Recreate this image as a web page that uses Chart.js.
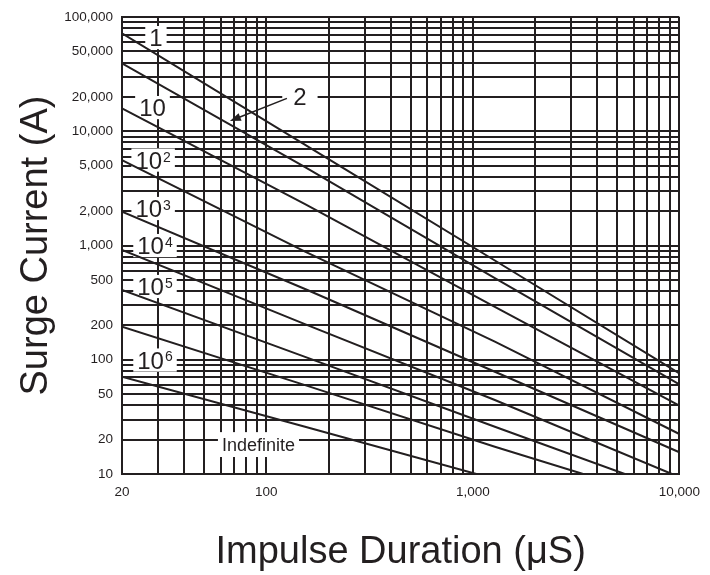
<!DOCTYPE html>
<html>
<head>
<meta charset="utf-8">
<script src="https://cdn.jsdelivr.net/npm/chart.js@4.4.0/dist/chart.umd.min.js"></script>
<style>
html,body{margin:0;padding:0;background:#ffffff;}
canvas{display:block;}
</style>
</head>
<body>
<canvas id="c" width="710" height="575"></canvas>
<script>
// ---------- DATA ----------
const xGridValues = [20,30,40,50,60,70,80,90,100,200,300,400,500,600,700,800,900,1000,2000,3000,4000,5000,6000,7000,8000,9000,10000];
const xTickLabels = [20,100,1000,10000];
const yGridValues = [10,20,30,40,50,60,70,80,90,100,200,300,400,500,600,700,800,900,1000,2000,3000,4000,5000,6000,7000,8000,9000,10000,20000,30000,40000,50000,60000,70000,80000,90000,100000];
const yTickLabels = [10,20,50,100,200,500,1000,2000,5000,10000,20000,50000,100000];

const seriesNames = ['1','2','10','10²','10³','10⁴','10⁵','10⁶','Indefinite'];

const dur_1  = [20, 254, 1278, 10000];
const amp_1  = [72000, 4400, 740, 76];
const dur_2  = [20, 154, 1278, 10000];
const amp_2  = [39400, 4850, 518, 61];
const dur_10 = [20, 154, 1278, 10000];
const amp_10 = [15900, 2300, 290, 39.6];
const dur_1e2 = [20, 154, 1278, 10000];
const amp_1e2 = [5600, 883, 144, 22.4];
const dur_1e3 = [20, 158, 1278, 10000];
const amp_1e3 = [1980, 408, 78.6, 15.5];
const dur_1e4 = [20, 158, 1278, 9200];
const amp_1e4 = [914, 201, 44.4, 10];
const dur_1e5 = [20, 154, 1278, 5440];
const amp_1e5 = [408, 106, 25.9, 10];
const dur_1e6 = [20, 154, 1278, 3420];
const amp_1e6 = [195, 60, 17.3, 10];
const dur_ind = [20, 154, 1040];
const amp_ind = [71, 25.9, 10];

const seriesDur = [dur_1, dur_2, dur_10, dur_1e2, dur_1e3, dur_1e4, dur_1e5, dur_1e6, dur_ind];
const seriesAmp = [amp_1, amp_2, amp_10, amp_1e2, amp_1e3, amp_1e4, amp_1e5, amp_1e6, amp_ind];

// in-plot curve labels (anchored in data coordinates)
const curveLabels = [
  {text:'1',  sup:'',  x:29.2, y:66150, kind:'num'},
  {text:'10', sup:'',  x:28.1, y:16140, kind:'num'},
  {text:'10', sup:'2', x:28.3, y:5600,  kind:'num'},
  {text:'10', sup:'3', x:28.3, y:2110,  kind:'num'},
  {text:'10', sup:'4', x:28.9, y:1000,  kind:'num'},
  {text:'10', sup:'5', x:28.9, y:438,   kind:'num'},
  {text:'10', sup:'6', x:28.9, y:99.5,  kind:'num'},
  {text:'Indefinite', sup:'', x:91.6, y:18.1, kind:'word'},
  {text:'2',  sup:'',  x:145.4, y:20350, kind:'callout'}
];
const arrowFrom = {x:125.8, y:19430};
const arrowTo   = {x:66.6,  y:12290};

// ---------- STYLE ----------
const INK = '#231f20';
const FONT = "'Liberation Sans', Arial, Helvetica, sans-serif";
const labelStyle = {
  num:     {size:24, sup:14, padX:4,  padY:3},
  word:    {size:18, sup:0,  padX:4,  padY:6},
  callout: {size:24, sup:0,  padX:11, padY:4}
};

const labelPlugin = {
  id: 'curveLabels',
  beforeDatasetsDraw(chart) {
    const {ctx, scales} = chart;
    const xs = scales.x, ys = scales.y;
    ctx.save();
    for (const L of curveLabels) {
      const st = labelStyle[L.kind];
      const cx = xs.getPixelForValue(L.x), cy = ys.getPixelForValue(L.y);
      const bigFont = st.size + 'px ' + FONT;
      const supFont = st.sup + 'px ' + FONT;
      ctx.font = bigFont;
      const wB = ctx.measureText(L.text).width;
      let wS = 0;
      if (L.sup) { ctx.font = supFont; wS = ctx.measureText(L.sup).width + 1; }
      const w = wB + wS;
      const capH = 0.716 * st.size;
      ctx.fillStyle = '#ffffff';
      ctx.fillRect(cx - w/2 - st.padX, cy - capH/2 - st.padY, w + 2*st.padX, capH + 2*st.padY);
      ctx.fillStyle = INK;
      ctx.textAlign = 'left';
      ctx.textBaseline = 'alphabetic';
      ctx.font = bigFont;
      ctx.fillText(L.text, cx - w/2, cy + capH/2);
      if (L.sup) {
        ctx.font = supFont;
        ctx.fillText(L.sup, cx - w/2 + wB + 1, cy - capH/2 + 0.716 * st.sup);
      }
    }
    // arrow for curve 2
    const x1 = xs.getPixelForValue(arrowFrom.x), y1 = ys.getPixelForValue(arrowFrom.y);
    const x2 = xs.getPixelForValue(arrowTo.x),   y2 = ys.getPixelForValue(arrowTo.y);
    const ang = Math.atan2(y2 - y1, x2 - x1);
    const hl = 11, hw = 4;
    ctx.strokeStyle = INK;
    ctx.lineWidth = 1.6;
    ctx.beginPath();
    ctx.moveTo(x1, y1);
    ctx.lineTo(x2 - Math.cos(ang)*hl*0.8, y2 - Math.sin(ang)*hl*0.8);
    ctx.stroke();
    ctx.beginPath();
    ctx.moveTo(x2, y2);
    ctx.lineTo(x2 - Math.cos(ang)*hl - Math.sin(ang)*hw, y2 - Math.sin(ang)*hl + Math.cos(ang)*hw);
    ctx.lineTo(x2 - Math.cos(ang)*hl + Math.sin(ang)*hw, y2 - Math.sin(ang)*hl - Math.cos(ang)*hw);
    ctx.closePath();
    ctx.fillStyle = INK;
    ctx.fill();
    ctx.restore();
  }
};

const datasets = seriesNames.map((name, k) => ({
  label: name,
  data: seriesDur[k].map((d, i) => ({x: d, y: seriesAmp[k][i]})),
  borderColor: INK,
  borderWidth: 2,
  pointRadius: 0,
  fill: false,
  tension: 0
}));

new Chart(document.getElementById('c'), {
  type: 'line',
  data: { datasets },
  plugins: [labelPlugin],
  options: {
    responsive: false,
    animation: false,
    devicePixelRatio: 1,
    layout: { padding: { top: 17, right: 30, bottom: 0, left: 0 } },
    plugins: { legend: { display: false }, tooltip: { enabled: false } },
    scales: {
      x: {
        type: 'logarithmic',
        position: 'bottom',
        min: 20, max: 10000,
        afterBuildTicks: (s) => { s.ticks = xGridValues.map(v => ({value: v})); },
        afterFit: (s) => { s.height = 101; },
        grid: { color: INK, lineWidth: 2, drawTicks: false },
        border: { display: true, color: INK, width: 2 },
        ticks: {
          autoSkip: false, maxRotation: 0, minRotation: 0, padding: 10,
          color: INK, font: { family: FONT, size: 13.5 },
          callback: (v) => xTickLabels.includes(v) ? v.toLocaleString('en-US') : ''
        },
        title: {
          display: true, text: 'Impulse Duration (μS)', color: INK,
          font: { family: FONT, size: 38 }, padding: { top: 0, bottom: 0 }
        }
      },
      y: {
        type: 'logarithmic',
        position: 'left',
        min: 10, max: 100000,
        afterBuildTicks: (s) => { s.ticks = yGridValues.map(v => ({value: v})); },
        afterFit: (s) => { s.width = 122; },
        grid: { color: INK, lineWidth: 2, drawTicks: false },
        border: { display: true, color: INK, width: 2 },
        ticks: {
          autoSkip: false, padding: 9,
          color: INK, font: { family: FONT, size: 13.5 },
          callback: (v) => yTickLabels.includes(v) ? v.toLocaleString('en-US') : ''
        },
        title: {
          display: true, text: 'Surge Current (A)', color: INK,
          font: { family: FONT, size: 38 }, padding: { top: 14, bottom: 0 }
        }
      }
    }
  }
});
</script>
</body>
</html>
